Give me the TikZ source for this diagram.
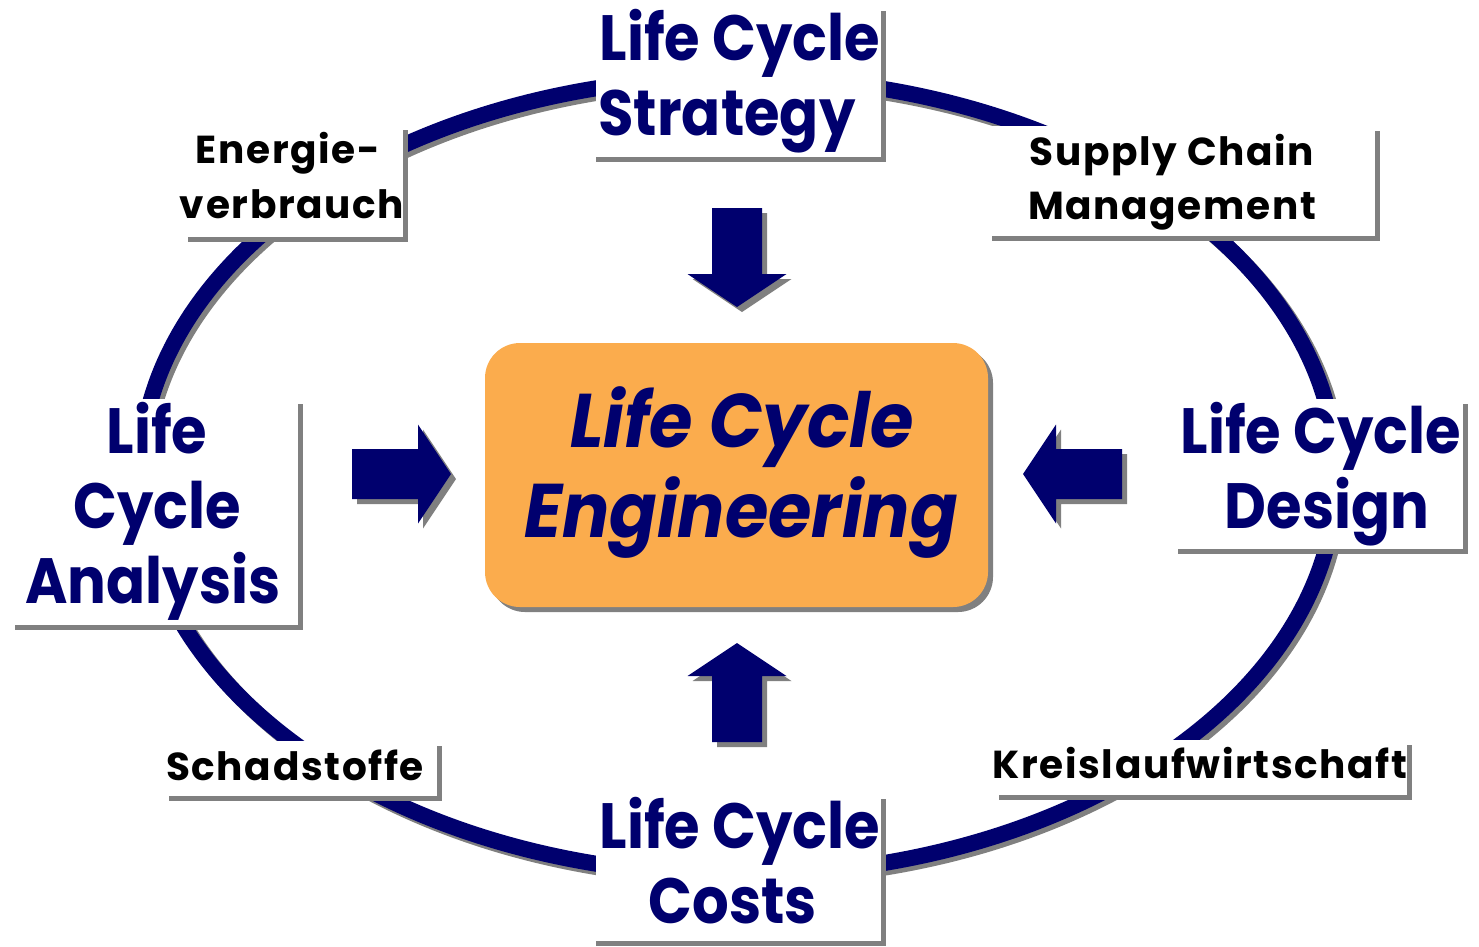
\documentclass[tikz,border=0pt]{standalone}
\usepackage{fontspec}
\setmainfont{Poppins}
\newfontfamily\lcfont[FakeStretch=0.9]{Poppins}
\newfontfamily\lccfont[FakeStretch=0.925]{Poppins}
\newfontfamily\lcsfont[LetterSpace=4.2]{Poppins}
\usetikzlibrary{backgrounds}
\pgfdeclarelayer{ring}
\pgfsetlayers{ring,background,main}
\definecolor{navy}{RGB}{0,0,110}
\definecolor{lcorange}{RGB}{251,172,77}
\definecolor{shadowgray}{RGB}{128,128,128}
\tikzset{
  labelbox/.style={fill=white, draw=none, inner sep=0, anchor=north west},
  bigtext/.style={inner sep=0, anchor=base, text=navy, font=\lcfont\bfseries\fontsize{64}{64}\selectfont},
  smalltext/.style={inner sep=0, anchor=base, text=black, font=\lcsfont\bfseries\fontsize{39}{39}\selectfont},
  centertext/.style={inner sep=0, anchor=base, text=navy, font=\lccfont\bfseries\itshape\fontsize{76}{76}\selectfont},
  barrow/.pic={\path[pic actions] (0,-25) -- (66,-25) -- (66,-49.5) -- (99,0) -- (66,49.5) -- (66,25) -- (0,25) -- cycle;}
}
\newcommand{\boxshadow}[1]{\fill[shadowgray] ([yshift=-5pt]#1.north west) rectangle ([xshift=5pt,yshift=-5pt]#1.south east);}
\begin{document}
\begin{tikzpicture}[x=1pt,y=-1pt]
\useasboundingbox (0,0) rectangle (1479,946);
% ring
\begin{pgfonlayer}{ring}
\draw[shadowgray, line width=16] (742,480) ellipse [x radius=598, y radius=399];
\draw[navy, line width=16] (738,476) ellipse [x radius=598, y radius=399];
\end{pgfonlayer}
% label boxes
\node[labelbox, minimum width=285, minimum height=151] (bS) at (596,6) {};
\node[labelbox, minimum width=283, minimum height=226] (bA) at (15,399) {};
\node[labelbox, minimum width=285, minimum height=150] (bD) at (1178,399) {};
\node[labelbox, minimum width=285, minimum height=147] (bC) at (596,794) {};
\node[labelbox, minimum width=215, minimum height=112] (bE) at (188,125) {};
\node[labelbox, minimum width=383, minimum height=110] (bM) at (992,126) {};
\node[labelbox, minimum width=268, minimum height=55] (bSch) at (169,741) {};
\node[labelbox, minimum width=408, minimum height=55] (bK) at (999,740) {};
\begin{pgfonlayer}{background}
\boxshadow{bS}\boxshadow{bA}\boxshadow{bD}\boxshadow{bC}
\boxshadow{bE}\boxshadow{bM}\boxshadow{bSch}\boxshadow{bK}
\end{pgfonlayer}
% big texts
\node[bigtext] (tS1) at (740,60) {Life Cycle};
\node[bigtext] (tS2) at (727,135) {Strategy};
\node[bigtext] (tA1) at (157,453) {Life};
\node[bigtext] (tA2) at (157,528) {Cycle};
\node[bigtext] (tA3) at (153,603) {Analysis};
\node[bigtext] (tD1) at (1321,453) {Life Cycle};
\node[bigtext] (tD2) at (1327,528) {Design};
\node[bigtext] (tC1) at (740,848) {Life Cycle};
\node[bigtext] (tC2) at (733,923) {Costs};
% small texts
\node[smalltext] (tE1) at (288,163) {Energie-};
\node[smalltext] (tE2) at (292,218) {verbrauch};
\node[smalltext] (tM1) at (1172,165) {Supply Chain};
\node[smalltext] (tM2) at (1172,219) {Management};
\node[smalltext] (tSch) at (295,780) {Schadstoffe};
\node[smalltext] (tK) at (1200,778) {Kreislaufwirtschaft};
% center
\fill[shadowgray, rounded corners=35] (490,348) rectangle (993,612);
\node[fill=lcorange, rounded corners=35, inner sep=0, minimum width=503, minimum height=264] (lce) at (736.5,475) {};
\node[centertext] (tL1) at (742,447) {Life Cycle};
\node[centertext] (tL2) at (741,537) {Engineering};
% block arrows
\pic[fill=shadowgray, rotate=-90] at (742,213) {barrow};
\pic[fill=navy, rotate=-90] at (737,208) {barrow};
\pic[fill=shadowgray] at (357,479) {barrow};
\pic[fill=navy] at (352,474) {barrow};
\pic[fill=shadowgray, rotate=180] at (1127,479) {barrow};
\pic[fill=navy, rotate=180] at (1122,474) {barrow};
\pic[fill=shadowgray, rotate=90] at (742,747) {barrow};
\pic[fill=navy, rotate=90] at (737,742) {barrow};
\end{tikzpicture}
\end{document}
